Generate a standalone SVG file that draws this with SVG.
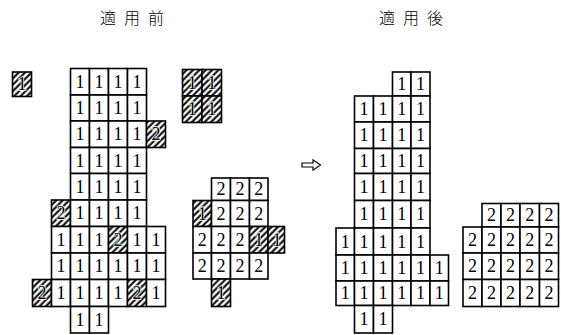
<svg xmlns="http://www.w3.org/2000/svg" width="561" height="335" viewBox="0 0 561 335">
<style>
.c{fill:#fff;stroke:#000;stroke-width:1.6}
.h{fill:url(#hatch);stroke:#000;stroke-width:1.6}
.n,.hn{font-family:"Liberation Serif","Times New Roman",serif;font-size:18px;text-anchor:middle;dominant-baseline:central;fill:#000}
.hn{stroke:#fff;stroke-width:1.4;paint-order:stroke}
.t{font-family:"Noto Sans CJK JP","Noto Sans CJK SC",sans-serif;font-size:16px;font-weight:300;letter-spacing:8px;fill:#000}
</style>
<defs>
<pattern id="hatch" width="4.5" height="4.5" patternUnits="userSpaceOnUse" patternTransform="rotate(45)">
<rect width="4.5" height="4.5" fill="#fff"/>
<line x1="1.5" y1="0" x2="1.5" y2="4.5" stroke="#000" stroke-width="2"/>
</pattern>
</defs>
<rect width="561" height="335" fill="#fff"/>

<g id="title-before"><text class="t" x="100" y="24">適用前</text></g>
<g id="title-after"><text class="t" x="379" y="24">適用後</text></g>

<g id="isolated-cell">
<rect class="h" x="12.5" y="72" width="19" height="24.5"/>
<text class="hn" x="22" y="84.2">1</text>
</g>

<g id="before-region1">
<rect class="c" x="70.5" y="68.5" width="19" height="26.5"/><rect class="c" x="89.5" y="68.5" width="19" height="26.5"/><rect class="c" x="108.5" y="68.5" width="19" height="26.5"/><rect class="c" x="127.5" y="68.5" width="19" height="26.5"/>
<text class="n" x="80" y="81.7">1</text><text class="n" x="99" y="81.7">1</text><text class="n" x="118" y="81.7">1</text><text class="n" x="137" y="81.7">1</text>
<rect class="c" x="70.5" y="95" width="19" height="26"/><rect class="c" x="89.5" y="95" width="19" height="26"/><rect class="c" x="108.5" y="95" width="19" height="26"/><rect class="c" x="127.5" y="95" width="19" height="26"/>
<text class="n" x="80" y="108">1</text><text class="n" x="99" y="108">1</text><text class="n" x="118" y="108">1</text><text class="n" x="137" y="108">1</text>
<rect class="c" x="70.5" y="121" width="19" height="26.5"/><rect class="c" x="89.5" y="121" width="19" height="26.5"/><rect class="c" x="108.5" y="121" width="19" height="26.5"/><rect class="c" x="127.5" y="121" width="19" height="26.5"/>
<rect class="h" x="146.5" y="121" width="19" height="26.5"/>
<text class="n" x="80" y="134.2">1</text><text class="n" x="99" y="134.2">1</text><text class="n" x="118" y="134.2">1</text><text class="n" x="137" y="134.2">1</text>
<text class="hn" x="156" y="134.2">2</text>
<rect class="c" x="70.5" y="147.5" width="19" height="26"/><rect class="c" x="89.5" y="147.5" width="19" height="26"/><rect class="c" x="108.5" y="147.5" width="19" height="26"/><rect class="c" x="127.5" y="147.5" width="19" height="26"/>
<text class="n" x="80" y="160.5">1</text><text class="n" x="99" y="160.5">1</text><text class="n" x="118" y="160.5">1</text><text class="n" x="137" y="160.5">1</text>
<rect class="c" x="70.5" y="173.5" width="19" height="26.5"/><rect class="c" x="89.5" y="173.5" width="19" height="26.5"/><rect class="c" x="108.5" y="173.5" width="19" height="26.5"/><rect class="c" x="127.5" y="173.5" width="19" height="26.5"/>
<text class="n" x="80" y="186.7">1</text><text class="n" x="99" y="186.7">1</text><text class="n" x="118" y="186.7">1</text><text class="n" x="137" y="186.7">1</text>
<rect class="h" x="51.5" y="200" width="19" height="26.5"/>
<rect class="c" x="70.5" y="200" width="19" height="26.5"/><rect class="c" x="89.5" y="200" width="19" height="26.5"/><rect class="c" x="108.5" y="200" width="19" height="26.5"/><rect class="c" x="127.5" y="200" width="19" height="26.5"/>
<text class="hn" x="61" y="213.2">2</text>
<text class="n" x="80" y="213.2">1</text><text class="n" x="99" y="213.2">1</text><text class="n" x="118" y="213.2">1</text><text class="n" x="137" y="213.2">1</text>
<rect class="c" x="51.5" y="226.5" width="19" height="26.5"/><rect class="c" x="70.5" y="226.5" width="19" height="26.5"/><rect class="c" x="89.5" y="226.5" width="19" height="26.5"/>
<rect class="h" x="108.5" y="226.5" width="19" height="26.5"/>
<rect class="c" x="127.5" y="226.5" width="19" height="26.5"/><rect class="c" x="146.5" y="226.5" width="19" height="26.5"/>
<text class="n" x="61" y="239.7">1</text><text class="n" x="80" y="239.7">1</text><text class="n" x="99" y="239.7">1</text>
<text class="hn" x="118" y="239.7">2</text>
<text class="n" x="137" y="239.7">1</text><text class="n" x="156" y="239.7">1</text>
<rect class="c" x="51.5" y="253" width="19" height="26.5"/><rect class="c" x="70.5" y="253" width="19" height="26.5"/><rect class="c" x="89.5" y="253" width="19" height="26.5"/><rect class="c" x="108.5" y="253" width="19" height="26.5"/><rect class="c" x="127.5" y="253" width="19" height="26.5"/><rect class="c" x="146.5" y="253" width="19" height="26.5"/>
<text class="n" x="61" y="266.2">1</text><text class="n" x="80" y="266.2">1</text><text class="n" x="99" y="266.2">1</text><text class="n" x="118" y="266.2">1</text><text class="n" x="137" y="266.2">1</text><text class="n" x="156" y="266.2">1</text>
<rect class="h" x="32.5" y="279.5" width="19" height="27"/>
<rect class="c" x="51.5" y="279.5" width="19" height="27"/><rect class="c" x="70.5" y="279.5" width="19" height="27"/><rect class="c" x="89.5" y="279.5" width="19" height="27"/><rect class="c" x="108.5" y="279.5" width="19" height="27"/>
<rect class="h" x="127.5" y="279.5" width="19" height="27"/>
<rect class="c" x="146.5" y="279.5" width="19" height="27"/>
<text class="hn" x="42" y="293">2</text>
<text class="n" x="61" y="293">1</text><text class="n" x="80" y="293">1</text><text class="n" x="99" y="293">1</text><text class="n" x="118" y="293">1</text>
<text class="hn" x="137" y="293">2</text>
<text class="n" x="156" y="293">1</text>
<rect class="c" x="70.5" y="306.5" width="19" height="26.5"/><rect class="c" x="89.5" y="306.5" width="19" height="26.5"/>
<text class="n" x="80" y="319.7">1</text><text class="n" x="99" y="319.7">1</text>
</g>

<g id="before-block">
<rect class="h" x="182.5" y="69.5" width="19.5" height="26.5"/><rect class="h" x="202" y="69.5" width="19.5" height="26.5"/>
<rect class="h" x="182.5" y="96" width="19.5" height="26.5"/><rect class="h" x="202" y="96" width="19.5" height="26.5"/>
<text class="hn" x="192.2" y="82.7">1</text><text class="hn" x="211.7" y="82.7">1</text>
<text class="hn" x="192.2" y="109.2">1</text><text class="hn" x="211.7" y="109.2">1</text>
</g>

<g id="before-region2">
<rect class="c" x="211.5" y="178" width="19" height="22.5"/><rect class="c" x="230.5" y="178" width="19" height="22.5"/><rect class="c" x="249.5" y="178" width="18.5" height="22.5"/>
<text class="n" x="221" y="189.2">2</text><text class="n" x="240" y="189.2">2</text><text class="n" x="258.7" y="189.2">2</text>
<rect class="h" x="193" y="200.5" width="18.5" height="26"/>
<rect class="c" x="211.5" y="200.5" width="19" height="26"/><rect class="c" x="230.5" y="200.5" width="19" height="26"/><rect class="c" x="249.5" y="200.5" width="18.5" height="26"/>
<text class="hn" x="202.2" y="213.5">1</text>
<text class="n" x="221" y="213.5">2</text><text class="n" x="240" y="213.5">2</text><text class="n" x="258.7" y="213.5">2</text>
<rect class="c" x="193" y="226.5" width="18.5" height="26.5"/><rect class="c" x="211.5" y="226.5" width="19" height="26.5"/><rect class="c" x="230.5" y="226.5" width="19" height="26.5"/>
<rect class="h" x="249.5" y="226.5" width="18.5" height="26.5"/><rect class="h" x="268" y="226.5" width="16.5" height="26.5"/>
<text class="n" x="202.2" y="239.7">2</text><text class="n" x="221" y="239.7">2</text><text class="n" x="240" y="239.7">2</text>
<text class="hn" x="258.7" y="239.7">1</text><text class="hn" x="277" y="239.7">1</text>
<rect class="c" x="193" y="253" width="18.5" height="26"/><rect class="c" x="211.5" y="253" width="19" height="26"/><rect class="c" x="230.5" y="253" width="19" height="26"/><rect class="c" x="249.5" y="253" width="18.5" height="26"/>
<text class="n" x="202.2" y="266">2</text><text class="n" x="221" y="266">2</text><text class="n" x="240" y="266">2</text><text class="n" x="258.7" y="266">2</text>
<rect class="h" x="211.5" y="279" width="19" height="27.5"/>
<text class="hn" x="221" y="292.7">1</text>
</g>

<g id="connectors">
<polygon points="302,163 313,163 313,159.8 320.5,165 313,170.2 313,167 302,167" fill="#fff" stroke="#000" stroke-width="1.2" stroke-linejoin="miter"/>
</g>

<g id="after-region1">
<rect class="c" x="392.5" y="72" width="18.5" height="24"/><rect class="c" x="411" y="72" width="19" height="24"/>
<text class="n" x="401.7" y="84">1</text><text class="n" x="420.5" y="84">1</text>
<rect class="c" x="354.5" y="96" width="19" height="26"/><rect class="c" x="373.5" y="96" width="19" height="26"/><rect class="c" x="392.5" y="96" width="18.5" height="26"/><rect class="c" x="411" y="96" width="19" height="26"/>
<text class="n" x="364" y="109">1</text><text class="n" x="383" y="109">1</text><text class="n" x="401.7" y="109">1</text><text class="n" x="420.5" y="109">1</text>
<rect class="c" x="354.5" y="122" width="19" height="26.5"/><rect class="c" x="373.5" y="122" width="19" height="26.5"/><rect class="c" x="392.5" y="122" width="18.5" height="26.5"/><rect class="c" x="411" y="122" width="19" height="26.5"/>
<text class="n" x="364" y="135.2">1</text><text class="n" x="383" y="135.2">1</text><text class="n" x="401.7" y="135.2">1</text><text class="n" x="420.5" y="135.2">1</text>
<rect class="c" x="354.5" y="148.5" width="19" height="25"/><rect class="c" x="373.5" y="148.5" width="19" height="25"/><rect class="c" x="392.5" y="148.5" width="18.5" height="25"/><rect class="c" x="411" y="148.5" width="19" height="25"/>
<text class="n" x="364" y="161">1</text><text class="n" x="383" y="161">1</text><text class="n" x="401.7" y="161">1</text><text class="n" x="420.5" y="161">1</text>
<rect class="c" x="354.5" y="173.5" width="19" height="27"/><rect class="c" x="373.5" y="173.5" width="19" height="27"/><rect class="c" x="392.5" y="173.5" width="18.5" height="27"/><rect class="c" x="411" y="173.5" width="19" height="27"/>
<text class="n" x="364" y="187">1</text><text class="n" x="383" y="187">1</text><text class="n" x="401.7" y="187">1</text><text class="n" x="420.5" y="187">1</text>
<rect class="c" x="354.5" y="200.5" width="19" height="27.5"/><rect class="c" x="373.5" y="200.5" width="19" height="27.5"/><rect class="c" x="392.5" y="200.5" width="18.5" height="27.5"/><rect class="c" x="411" y="200.5" width="19" height="27.5"/>
<text class="n" x="364" y="214.2">1</text><text class="n" x="383" y="214.2">1</text><text class="n" x="401.7" y="214.2">1</text><text class="n" x="420.5" y="214.2">1</text>
<rect class="c" x="336" y="228" width="18.5" height="27"/><rect class="c" x="354.5" y="228" width="19" height="27"/><rect class="c" x="373.5" y="228" width="19" height="27"/><rect class="c" x="392.5" y="228" width="18.5" height="27"/><rect class="c" x="411" y="228" width="19" height="27"/>
<text class="n" x="345.2" y="241.5">1</text><text class="n" x="364" y="241.5">1</text><text class="n" x="383" y="241.5">1</text><text class="n" x="401.7" y="241.5">1</text><text class="n" x="420.5" y="241.5">1</text>
<rect class="c" x="336" y="255" width="18.5" height="26"/><rect class="c" x="354.5" y="255" width="19" height="26"/><rect class="c" x="373.5" y="255" width="19" height="26"/><rect class="c" x="392.5" y="255" width="18.5" height="26"/><rect class="c" x="411" y="255" width="19" height="26"/><rect class="c" x="430" y="255" width="18.5" height="26"/>
<text class="n" x="345.2" y="268">1</text><text class="n" x="364" y="268">1</text><text class="n" x="383" y="268">1</text><text class="n" x="401.7" y="268">1</text><text class="n" x="420.5" y="268">1</text><text class="n" x="439.2" y="268">1</text>
<rect class="c" x="336" y="281" width="18.5" height="24.5"/><rect class="c" x="354.5" y="281" width="19" height="24.5"/><rect class="c" x="373.5" y="281" width="19" height="24.5"/><rect class="c" x="392.5" y="281" width="18.5" height="24.5"/><rect class="c" x="411" y="281" width="19" height="24.5"/><rect class="c" x="430" y="281" width="18.5" height="24.5"/>
<text class="n" x="345.2" y="293.2">1</text><text class="n" x="364" y="293.2">1</text><text class="n" x="383" y="293.2">1</text><text class="n" x="401.7" y="293.2">1</text><text class="n" x="420.5" y="293.2">1</text><text class="n" x="439.2" y="293.2">1</text>
<rect class="c" x="354.5" y="305.5" width="19" height="27.5"/><rect class="c" x="373.5" y="305.5" width="19" height="27.5"/>
<text class="n" x="364" y="319.2">1</text><text class="n" x="383" y="319.2">1</text>
</g>

<g id="after-region2">
<rect class="c" x="482" y="203.5" width="19" height="23.5"/><rect class="c" x="501" y="203.5" width="19" height="23.5"/><rect class="c" x="520" y="203.5" width="19.5" height="23.5"/><rect class="c" x="539.5" y="203.5" width="19" height="23.5"/>
<text class="n" x="491.5" y="215.2">2</text><text class="n" x="510.5" y="215.2">2</text><text class="n" x="529.7" y="215.2">2</text><text class="n" x="549" y="215.2">2</text>
<rect class="c" x="463" y="227" width="19" height="26"/><rect class="c" x="482" y="227" width="19" height="26"/><rect class="c" x="501" y="227" width="19" height="26"/><rect class="c" x="520" y="227" width="19.5" height="26"/><rect class="c" x="539.5" y="227" width="19" height="26"/>
<text class="n" x="472.5" y="240">2</text><text class="n" x="491.5" y="240">2</text><text class="n" x="510.5" y="240">2</text><text class="n" x="529.7" y="240">2</text><text class="n" x="549" y="240">2</text>
<rect class="c" x="463" y="253" width="19" height="26.5"/><rect class="c" x="482" y="253" width="19" height="26.5"/><rect class="c" x="501" y="253" width="19" height="26.5"/><rect class="c" x="520" y="253" width="19.5" height="26.5"/><rect class="c" x="539.5" y="253" width="19" height="26.5"/>
<text class="n" x="472.5" y="266.2">2</text><text class="n" x="491.5" y="266.2">2</text><text class="n" x="510.5" y="266.2">2</text><text class="n" x="529.7" y="266.2">2</text><text class="n" x="549" y="266.2">2</text>
<rect class="c" x="463" y="279.5" width="19" height="27"/><rect class="c" x="482" y="279.5" width="19" height="27"/><rect class="c" x="501" y="279.5" width="19" height="27"/><rect class="c" x="520" y="279.5" width="19.5" height="27"/><rect class="c" x="539.5" y="279.5" width="19" height="27"/>
<text class="n" x="472.5" y="293">2</text><text class="n" x="491.5" y="293">2</text><text class="n" x="510.5" y="293">2</text><text class="n" x="529.7" y="293">2</text><text class="n" x="549" y="293">2</text>
</g>
</svg>
